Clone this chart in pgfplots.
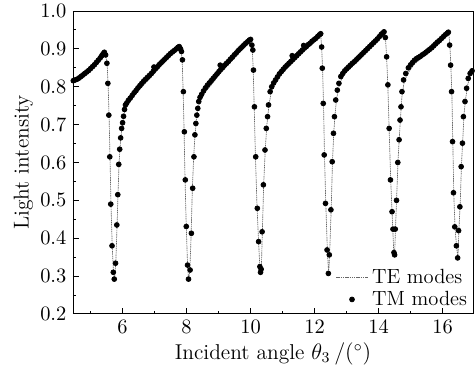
\documentclass[border=0pt]{standalone}
\usepackage{pgfplots}
\usepackage{pgfplotstable}
\pgfplotsset{compat=1.18}
\pgfplotstableread{
x y
4.46 0.816
4.52 0.818
4.58 0.820
4.64 0.823
4.70 0.827
4.76 0.831
4.82 0.835
4.88 0.839
4.94 0.843
5.00 0.848
5.06 0.853
5.12 0.858
5.18 0.864
5.24 0.870
5.30 0.876
5.35 0.882
5.39 0.887
5.43 0.891
5.47 0.884
5.51 0.862
5.54 0.809
5.57 0.725
5.60 0.615
5.63 0.490
5.67 0.380
5.71 0.310
5.74 0.292
5.78 0.334
5.82 0.435
5.85 0.515
5.88 0.595
5.91 0.635
5.94 0.665
5.97 0.690
6.00 0.705
6.03 0.722
6.06 0.740
6.09 0.752
6.13 0.757
6.18 0.764
6.24 0.770
6.30 0.777
6.36 0.784
6.42 0.790
6.48 0.797
6.54 0.803
6.60 0.809
6.66 0.815
6.72 0.820
6.78 0.825
6.84 0.830
6.90 0.835
6.96 0.841
6.98 0.852
7.02 0.847
7.08 0.852
7.14 0.858
7.20 0.863
7.26 0.868
7.32 0.873
7.38 0.878
7.44 0.883
7.50 0.888
7.56 0.892
7.62 0.896
7.68 0.900
7.73 0.904
7.77 0.906
7.81 0.900
7.84 0.893
7.87 0.871
7.90 0.787
7.93 0.681
7.96 0.554
7.99 0.431
8.03 0.329
8.06 0.292
8.11 0.316
8.15 0.413
8.19 0.532
8.23 0.615
8.26 0.673
8.29 0.703
8.32 0.725
8.35 0.743
8.38 0.761
8.42 0.772
8.47 0.780
8.53 0.789
8.59 0.797
8.65 0.804
8.71 0.810
8.77 0.816
8.83 0.822
8.89 0.828
8.95 0.834
9.01 0.840
9.05 0.857
9.07 0.846
9.13 0.851
9.19 0.857
9.25 0.862
9.31 0.867
9.37 0.873
9.43 0.878
9.49 0.884
9.55 0.889
9.61 0.895
9.67 0.900
9.73 0.905
9.79 0.910
9.85 0.915
9.91 0.919
9.96 0.923
10.00 0.925
10.04 0.910
10.07 0.897
10.09 0.844
10.12 0.747
10.16 0.615
10.21 0.479
10.25 0.391
10.29 0.325
10.31 0.310
10.33 0.318
10.36 0.417
10.40 0.541
10.45 0.633
10.49 0.690
10.53 0.721
10.56 0.752
10.61 0.787
10.66 0.800
10.72 0.810
10.78 0.818
10.84 0.826
10.90 0.834
10.96 0.840
11.02 0.846
11.08 0.852
11.14 0.857
11.20 0.862
11.26 0.867
11.30 0.882
11.32 0.872
11.38 0.877
11.44 0.882
11.50 0.887
11.56 0.892
11.62 0.897
11.66 0.909
11.68 0.902
11.74 0.906
11.80 0.911
11.86 0.915
11.92 0.920
11.98 0.924
12.04 0.928
12.10 0.933
12.15 0.937
12.19 0.940
12.22 0.905
12.24 0.849
12.27 0.756
12.30 0.620
12.34 0.492
12.39 0.369
12.43 0.307
12.46 0.356
12.51 0.475
12.55 0.602
12.59 0.677
12.62 0.721
12.66 0.765
12.71 0.791
12.76 0.809
12.82 0.827
12.88 0.835
12.94 0.842
13.00 0.847
13.06 0.852
13.12 0.857
13.18 0.862
13.24 0.866
13.30 0.871
13.36 0.876
13.42 0.881
13.48 0.886
13.54 0.891
13.60 0.896
13.66 0.901
13.72 0.906
13.78 0.911
13.84 0.916
13.90 0.921
13.96 0.926
14.02 0.932
14.08 0.938
14.13 0.942
14.17 0.945
14.21 0.930
14.25 0.879
14.29 0.805
14.33 0.690
14.37 0.554
14.42 0.470
14.45 0.424
14.48 0.362
14.50 0.356
14.52 0.424
14.56 0.500
14.60 0.600
14.64 0.660
14.67 0.712
14.70 0.747
14.73 0.787
14.78 0.818
14.85 0.835
14.93 0.850
15.00 0.858
15.06 0.864
15.12 0.870
15.18 0.874
15.24 0.877
15.30 0.880
15.36 0.884
15.42 0.887
15.48 0.891
15.54 0.895
15.60 0.899
15.66 0.903
15.72 0.908
15.78 0.913
15.84 0.918
15.90 0.922
15.96 0.927
16.02 0.932
16.08 0.937
16.14 0.941
16.18 0.944
16.22 0.910
16.25 0.857
16.28 0.787
16.31 0.655
16.34 0.520
16.38 0.430
16.43 0.380
16.47 0.348
16.50 0.420
16.54 0.483
16.58 0.589
16.62 0.651
16.65 0.721
16.70 0.761
16.75 0.796
16.80 0.822
16.86 0.835
16.92 0.842
}\tmdata
\pgfplotstableread{
x y
4.45 0.810
4.70 0.822
5.00 0.843
5.20 0.860
5.40 0.883
5.44 0.888
5.48 0.880
5.52 0.855
5.55 0.800
5.58 0.715
5.61 0.600
5.64 0.480
5.68 0.370
5.72 0.305
5.75 0.292
5.79 0.340
5.83 0.440
5.86 0.525
5.89 0.598
5.93 0.650
5.97 0.686
6.02 0.712
6.08 0.738
6.15 0.752
6.30 0.770
6.50 0.790
6.70 0.808
6.90 0.826
7.10 0.845
7.30 0.864
7.50 0.882
7.70 0.897
7.78 0.904
7.82 0.898
7.86 0.875
7.89 0.795
7.92 0.690
7.95 0.560
7.99 0.430
8.03 0.330
8.06 0.293
8.10 0.310
8.14 0.405
8.18 0.530
8.22 0.612
8.26 0.670
8.31 0.712
8.37 0.748
8.45 0.768
8.60 0.788
8.80 0.808
9.00 0.830
9.20 0.849
9.40 0.868
9.60 0.887
9.80 0.904
9.95 0.918
10.01 0.922
10.05 0.905
10.08 0.850
10.11 0.755
10.15 0.620
10.20 0.485
10.25 0.390
10.29 0.322
10.31 0.310
10.34 0.330
10.37 0.425
10.41 0.545
10.46 0.637
10.51 0.700
10.57 0.748
10.64 0.785
10.75 0.803
10.90 0.825
11.10 0.845
11.30 0.862
11.50 0.880
11.70 0.897
11.90 0.913
12.10 0.930
12.19 0.938
12.22 0.905
12.25 0.845
12.28 0.750
12.31 0.615
12.35 0.490
12.40 0.365
12.44 0.306
12.47 0.360
12.52 0.480
12.56 0.605
12.60 0.680
12.64 0.728
12.69 0.770
12.76 0.800
12.85 0.822
13.00 0.840
13.20 0.856
13.40 0.873
13.60 0.891
13.80 0.910
14.00 0.930
14.10 0.942
14.16 0.948
14.21 0.935
14.25 0.880
14.29 0.800
14.33 0.685
14.38 0.550
14.43 0.450
14.47 0.370
14.50 0.356
14.53 0.430
14.57 0.520
14.61 0.610
14.65 0.670
14.69 0.725
14.73 0.775
14.79 0.808
14.90 0.834
15.10 0.858
15.30 0.873
15.50 0.887
15.70 0.903
15.90 0.920
16.10 0.937
16.19 0.946
16.23 0.905
16.26 0.850
16.29 0.780
16.32 0.650
16.35 0.515
16.39 0.425
16.44 0.375
16.48 0.348
16.51 0.425
16.55 0.490
16.59 0.595
16.63 0.660
16.67 0.728
16.72 0.768
16.78 0.803
16.85 0.828
16.94 0.838
}\tedata
\begin{document}
\begin{tikzpicture}
\begin{axis}[
  name=ax,
  scale only axis,
  width=214.3pt, height=162.3pt,
  xmin=4.45, xmax=16.95, ymin=0.2, ymax=1.0,
  xtick={6,8,10,12,14,16}, minor xtick={5,7,9,11,13,15,17},
  ytick={0.2,0.3,0.4,0.5,0.6,0.7,0.8,0.9,1.0},
  minor ytick={0.25,0.35,0.45,0.55,0.65,0.75,0.85,0.95},
  tick align=inside, xtick pos=bottom, ytick pos=left,
  major tick length=3pt, minor tick length=1.6pt,
  tick style={black, line width=0.5pt},
  axis line style={line width=0.5pt},
  tick label style={font=\fontsize{11}{13}\selectfont},
  label style={font=\fontsize{11.5}{14}\selectfont},
  yticklabel style={/pgf/number format/.cd, fixed, fixed zerofill, precision=1},
  xlabel={Incident angle $\theta_3\,/(^{\circ})$},
  ylabel={Light intensity},
  xlabel style={yshift=2pt},
  ylabel style={yshift=-3pt},
  legend style={at={(1,0)}, anchor=south east, draw=none, fill=none,
    inner sep=1pt, row sep=-1.5pt, legend cell align=left,
    font=\fontsize{11}{13}\selectfont},
]
\addplot[black!60, line width=0.35pt, dash pattern=on 0.8pt off 0.4pt] table[x=x,y=y] {\tedata};
\addlegendentry{TE modes}
\addplot[only marks, mark=*, mark size=1.3pt, black] table[x=x,y=y] {\tmdata};
\addlegendentry{TM modes}
\end{axis}
\pgfresetboundingbox
\path[use as bounding box] ([xshift=-39.1pt,yshift=-30pt]ax.south west) rectangle ([xshift=1.07pt,yshift=5.9pt]ax.north east);
\end{tikzpicture}
\end{document}
